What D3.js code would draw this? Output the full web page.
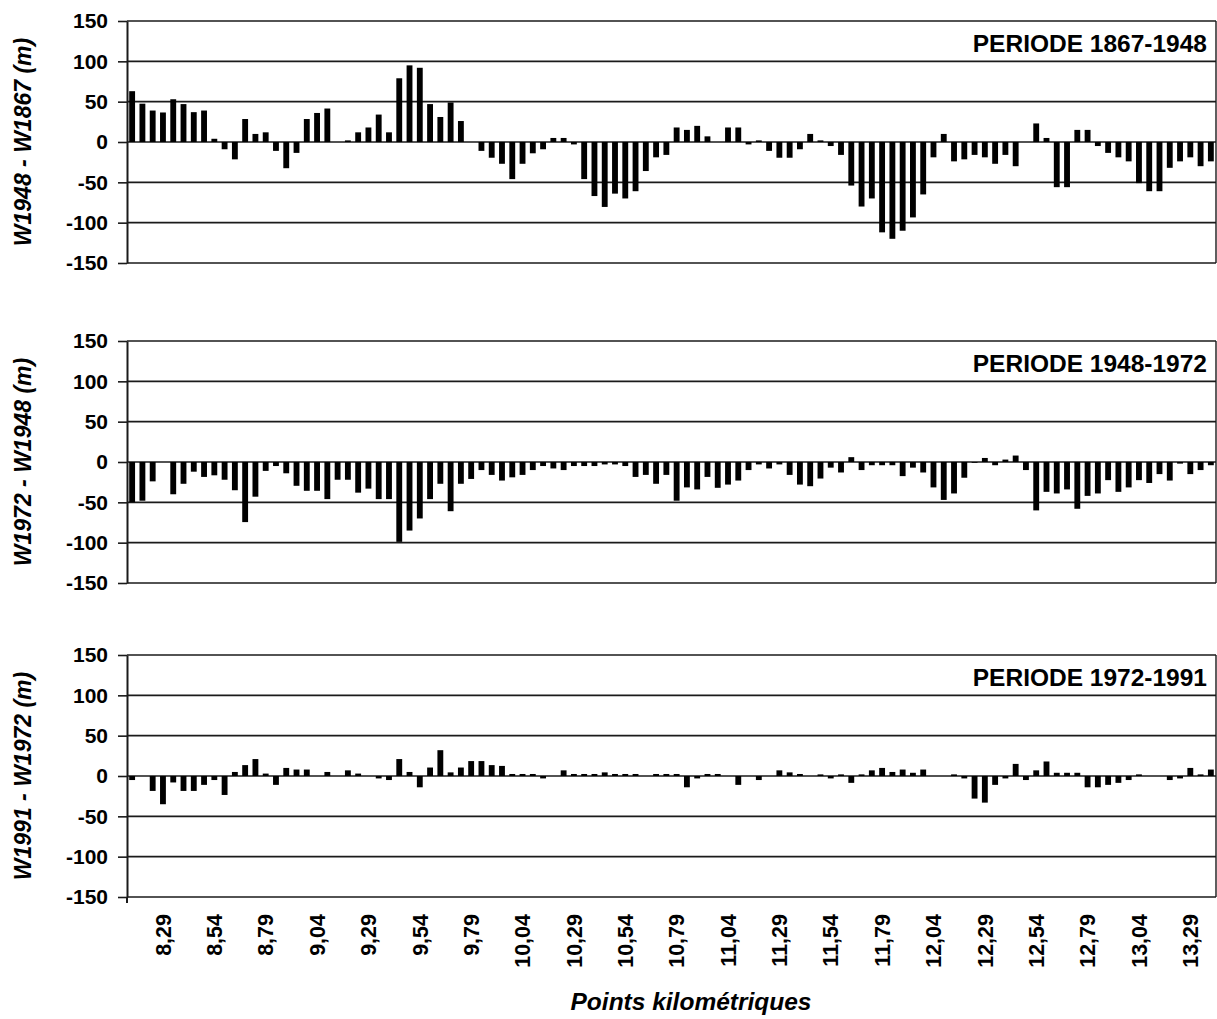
<!DOCTYPE html>
<html>
<head>
<meta charset="utf-8">
<script src="https://cdn.jsdelivr.net/npm/d3@7"></script>
<style>
  body { margin: 0; background: #fff; }
  svg { display: block; }
  text { font-family: "Liberation Sans", Arial, sans-serif; font-weight: bold; fill: #000; }
</style>
</head>
<body>
<div id="chart"></div>
<script>
// points kilometriques, one every 0.05 km
var categories = d3.range(106).map(function(i) { return (8.14 + i * 0.05).toFixed(2).replace(".", ","); });

var tickLabels = ["8,29", "8,54", "8,79", "9,04", "9,29", "9,54", "9,79", "10,04", "10,29", "10,54",
    "10,79", "11,04", "11,29", "11,54", "11,79", "12,04", "12,29", "12,54", "12,79", "13,04", "13,29"];

var yTicks = [-150, -100, -50, 0, 50, 100, 150];

var p1867_1948 = [63, 47.5, 39, 36.6, 53, 47, 37, 39, 4, -9,
    -21.5, 28.5, 10, 12, -11, -32.5, -13.5, 28.5, 36, 41.5,
    0, 2, 12, 18, 34, 12, 79, 95, 92, 47,
    31, 49, 26, 0, -11, -19.5, -27, -46, -27, -14,
    -9, 5, 5, -3, -46, -67, -80.5, -64, -70, -61,
    -36, -19, -16, 18, 15, 20, 7, 0, 18, 18,
    -3, 2, -11, -19.5, -19.5, -9, 10, 2, -5, -16,
    -54, -80, -70, -112, -120, -110, -93.5, -65, -19, 10,
    -24, -21.5, -16, -19, -27, -16, -30, 0, 23, 5,
    -56, -56, 15, 15, -5, -13.5, -19, -24, -51, -61,
    -61, -32, -24, -19, -30, -24];

var p1948_1972 = [-50, -48, -24, 0, -40, -27, -12, -18.5, -16.5, -22,
    -35, -74.5, -43, -11, -5, -14, -29.5, -35.7, -35.7, -46,
    -22, -22, -38, -33, -46, -46, -99, -85, -70, -46,
    -27, -61, -27, -21, -10, -16, -23, -19, -16, -10,
    -5, -8, -10, -5, -5, -5, -3, -3, -5, -18.5,
    -16, -27, -16, -48, -31.5, -34, -18.5, -32, -28, -23,
    -10, -3, -8, -3, -16, -28, -30, -20.5, -7, -13,
    6, -10, -4, -4, -4, -17.5, -7, -13, -31.5, -47,
    -39, -19.5, -1, 5, -4, 3, 8, -10, -60, -37,
    -39, -34, -58, -42, -39, -22.5, -37, -31.5, -22.5, -26,
    -15, -23, -2, -15, -10, -4];

var p1972_1991 = [-5, 0, -18.5, -35, -8, -18.5, -18.5, -11, -5, -23.5,
    5, 13.5, 21, 3, -11, 10, 8, 8, 0, 5,
    0, 7, 3, 0, -3, -5, 21, 5, -14, 10.5,
    32, 4.5, 10.5, 18.5, 18.5, 13.5, 12.5, 2.5, 2.5, 2.5,
    -3, 0, 7, 2.5, 2.5, 2.5, 4.5, 2.5, 2.5, 2.5,
    0, 2.5, 2.5, 2.5, -14, -3, 2.5, 2.5, 0, -11,
    0, -5, 0, 7, 4.5, 2.5, 0, 2, -3, 2,
    -8.5, 2, 7, 10, 5, 8, 4, 8, 0, 0,
    2, -3, -28, -33, -11, -3, 15, -5, 7, 18,
    4, 4, 4, -14, -14, -11, -8.5, -5, 2, 0,
    0, -5, -3, 10, 2, 8];

var panels = [
    {values: p1867_1948, title: "PERIODE 1867-1948", ylabel: "W1948 - W1867 (m)", top: 21},
    {values: p1948_1972, title: "PERIODE 1948-1972", ylabel: "W1972 - W1948 (m)", top: 341},
    {values: p1972_1991, title: "PERIODE 1972-1991", ylabel: "W1991 - W1972 (m)", top: 655}
];

var width = 1217, height = 1019;
var left = 127, right = 1216, panelH = 242;

var svg = d3.select("#chart").append("svg")
    .attr("width", width)
    .attr("height", height);

var x = d3.scaleBand()
    .domain(categories)
    .range([left, right])
    .paddingInner(0.43)
    .paddingOuter(0.215);

panels.forEach(function(p, k) {
    var y = d3.scaleLinear()
        .domain([-150, 150])
        .range([p.top + panelH, p.top]);

    var g = svg.append("g");

    // grid lines
    g.selectAll(".grid")
        .data(yTicks)
        .enter().append("line")
        .attr("x1", left)
        .attr("x2", right)
        .attr("y1", function(d) { return y(d); })
        .attr("y2", function(d) { return y(d); })
        .style("stroke", "#1a1a1a")
        .style("stroke-width", 1.6);

    // right border
    g.append("line")
        .attr("x1", right).attr("x2", right)
        .attr("y1", y(150)).attr("y2", y(-150))
        .style("stroke", "#1a1a1a")
        .style("stroke-width", 1.4);

    // bars
    g.selectAll(".bar")
        .data(p.values)
        .enter().append("rect")
        .attr("x", function(d, i) { return x(categories[i]); })
        .attr("width", x.bandwidth())
        .attr("y", function(d) { return y(Math.max(0, d)); })
        .attr("height", function(d) { return Math.abs(y(d) - y(0)); })
        .style("fill", "#000");

    var axis = g.append("g")
        .attr("transform", "translate(" + left + ",0)")
        .call(d3.axisLeft(y).tickValues(yTicks).tickSize(9).tickSizeOuter(0).tickPadding(10)
            .tickFormat(function(d) { return String(d); }));
    axis.selectAll("line").style("stroke", "#1a1a1a").style("stroke-width", 1.6);
    axis.select(".domain").style("stroke", "#1a1a1a").style("stroke-width", 2);
    axis.selectAll("text")
        .style("font-size", "21px")
        .style("font-family", "'Liberation Sans', Arial, sans-serif")
        .style("font-weight", "bold")
        .style("fill", "#000");

    if (k == 2) {
        g.append("line")
            .attr("x1", left).attr("x2", left)
            .attr("y1", y(-150)).attr("y2", y(-150) + 6)
            .style("stroke", "#1a1a1a")
            .style("stroke-width", 2);
    }

    g.append("text")
        .attr("x", 1207)
        .attr("y", p.top + 31)
        .attr("text-anchor", "end")
        .style("font-size", "24.5px")
        .text(p.title);

    g.append("text")
        .attr("transform", "translate(31," + (p.top + panelH / 2) + ") rotate(-90)")
        .attr("text-anchor", "middle")
        .style("font-size", "23px")
        .style("font-style", "italic")
        .text(p.ylabel);
});

// x tick labels under the last panel
svg.selectAll(".xlab")
    .data(tickLabels)
    .enter().append("text")
    .attr("transform", function(d) {
        return "translate(" + (x(d) + x.bandwidth() / 2) + ",914) rotate(-90)";
    })
    .attr("dy", "0.36em")
    .attr("text-anchor", "end")
    .style("font-size", "21.5px")
    .text(function(d) { return d; });

svg.append("text")
    .attr("x", 691)
    .attr("y", 1010)
    .attr("text-anchor", "middle")
    .style("font-size", "24.5px")
    .style("font-style", "italic")
    .text("Points kilométriques");
</script>
</body>
</html>
